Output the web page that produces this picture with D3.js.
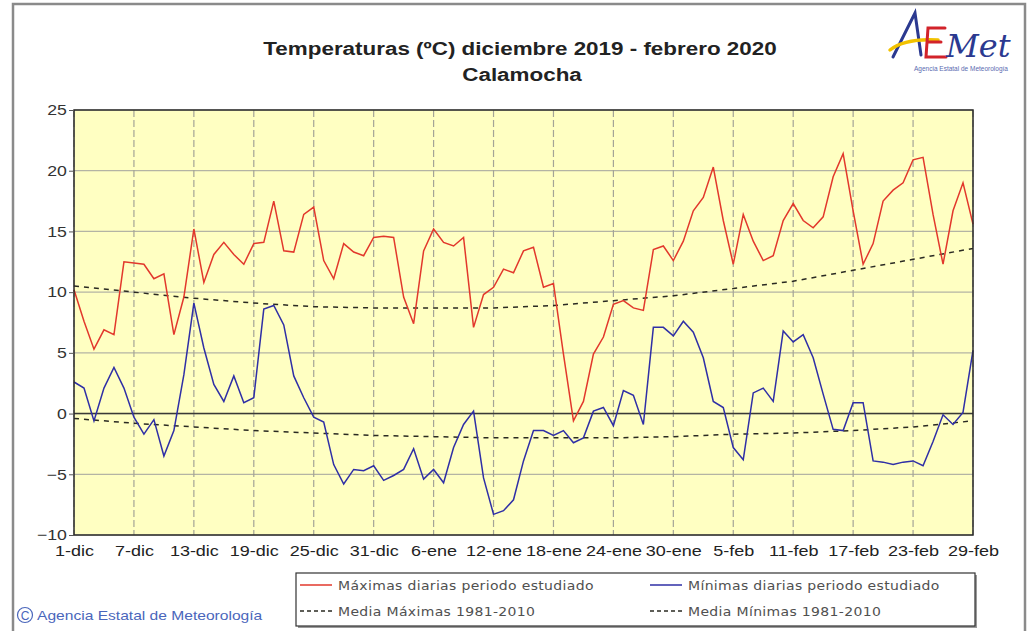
<!DOCTYPE html>
<html>
<head>
<meta charset="utf-8">
<script src="https://cdn.jsdelivr.net/npm/d3@7"></script>
<style>
  body { margin: 0; background: #fff; }
  svg { display: block; }
</style>
</head>
<body>
<svg id="chart"></svg>
<script>
// Etiquetas del eje X (cada 6 dias, 1-dic .. 29-feb)
const xLabels = ['1-dic', '7-dic', '13-dic', '19-dic', '25-dic', '31-dic', '6-ene', '12-ene',
  '18-ene', '24-ene', '30-ene', '5-feb', '11-feb', '17-feb', '23-feb', '29-feb'];
const yTicks = [-10, -5, 0, 5, 10, 15, 20, 25];

// Maximas diarias (91 dias)
const maxDiarias = [
  10.2, 7.6, 5.3, 6.9, 6.5, 12.5, 12.4, 12.3, 11.1, 11.5,
  6.5, 9.6, 15.2, 10.8, 13.1, 14.1, 13.1, 12.3, 14.0, 14.1,
  17.5, 13.4, 13.3, 16.4, 17.0, 12.6, 11.1, 14.0, 13.3, 13.0,
  14.5, 14.6, 14.5, 9.6, 7.4, 13.4, 15.2, 14.1, 13.8, 14.5,
  7.1, 9.8, 10.4, 11.9, 11.6, 13.4, 13.7, 10.4, 10.7, 4.9,
  -0.6, 1.0, 4.9, 6.3, 9.0, 9.3, 8.7, 8.5, 13.5, 13.8,
  12.6, 14.2, 16.7, 17.8, 20.3, 15.9, 12.3, 16.4, 14.2, 12.6,
  13.0, 15.9, 17.3, 15.9, 15.3, 16.2, 19.5, 21.4, 16.7, 12.3,
  14.0, 17.5, 18.4, 19.0, 20.9, 21.1, 16.4, 12.3, 16.7, 19.0,
  15.6
];

// Minimas diarias (91 dias)
const minDiarias = [
  2.6, 2.1, -0.6, 2.1, 3.8, 2.1, -0.3, -1.7, -0.5, -3.5,
  -1.4, 3.2, 9.1, 5.4, 2.4, 1.0, 3.1, 0.9, 1.3, 8.6,
  8.9, 7.3, 3.1, 1.3, -0.3, -0.7, -4.2, -5.8, -4.6, -4.7,
  -4.3, -5.5, -5.1, -4.6, -2.9, -5.4, -4.6, -5.7, -2.8, -0.9,
  0.2, -5.3, -8.3, -8.0, -7.1, -3.9, -1.4, -1.4, -1.8, -1.4,
  -2.4, -2.0, 0.2, 0.5, -1.0, 1.9, 1.5, -0.9, 7.1, 7.1,
  6.4, 7.6, 6.7, 4.6, 1.0, 0.5, -2.8, -3.8, 1.7, 2.1,
  1.0, 6.8, 5.9, 6.5, 4.6, 1.6, -1.3, -1.4, 0.9, 0.9,
  -3.9, -4.0, -4.2, -4.0, -3.9, -4.3, -2.3, -0.1, -0.9, 0.1,
  5.2
];

const mediaMax = [10.5, 10.0, 9.5, 9.1, 8.8, 8.7, 8.7, 8.7, 8.9, 9.3, 9.7, 10.3, 10.9, 11.8, 12.7, 13.6];
const mediaMin = [-0.4, -0.8, -1.1, -1.4, -1.6, -1.8, -1.9, -2.0, -2.0, -2.0, -1.9, -1.7, -1.6, -1.4, -1.1, -0.6];

class TempChart {

  constructor(_config) {
    this.config = {
      parentElement: _config.parentElement,
      containerWidth: _config.containerWidth || 1032,
      containerHeight: _config.containerHeight || 631,
      margin: { top: 110, bottom: 96, right: 59, left: 74 }
    }
    this.stretch = 1.18; // el original esta algo ensanchado
    this.initVis();
  }

  initVis() {
    let vis = this;
    vis.width = vis.config.containerWidth - vis.config.margin.left - vis.config.margin.right;
    vis.height = vis.config.containerHeight - vis.config.margin.top - vis.config.margin.bottom;

    vis.tickDays = d3.range(0, 91, 6);

    vis.xScale = d3.scaleLinear()
      .domain([0, 90])
      .range([0, vis.width]);

    vis.yScale = d3.scaleLinear()
      .domain([-10, 25])
      .range([vis.height, 0]);

    vis.svg = d3.select(vis.config.parentElement)
      .attr('width', vis.config.containerWidth)
      .attr('height', vis.config.containerHeight);

    vis.chart = vis.svg.append('g')
      .attr('transform', `translate(${vis.config.margin.left},${vis.config.margin.top})`);

    vis.line = d3.line()
      .x((d, i) => vis.xScale(i))
      .y(d => vis.yScale(d));

    vis.normLine = d3.line()
      .x((d, i) => vis.xScale(vis.tickDays[i]))
      .y(d => vis.yScale(d));

    vis.renderVis();
  }

  renderVis() {
    let vis = this;
    const s = vis.stretch;

    // marco exterior
    vis.svg.append('rect')
      .attr('x', 13).attr('y', 4)
      .attr('width', 1012).attr('height', 640)
      .attr('fill', 'none')
      .attr('stroke', '#8a8a8a')
      .attr('stroke-width', 2.5);

    // fondo del grafico
    vis.chart.append('rect')
      .attr('width', vis.width)
      .attr('height', vis.height)
      .attr('fill', '#ffffc2');

    // rejilla horizontal
    vis.chart.append('g')
      .selectAll('line')
      .data(yTicks)
      .join('line')
      .attr('x1', 0).attr('x2', vis.width)
      .attr('y1', d => vis.yScale(d)).attr('y2', d => vis.yScale(d))
      .attr('stroke', '#b4b4a4')
      .attr('stroke-width', 1.2);

    // rejilla vertical discontinua
    vis.chart.append('g')
      .selectAll('line')
      .data(vis.tickDays)
      .join('line')
      .attr('x1', d => vis.xScale(d)).attr('x2', d => vis.xScale(d))
      .attr('y1', 0).attr('y2', vis.height)
      .attr('stroke', '#a4a496')
      .attr('stroke-width', 1.2)
      .attr('stroke-dasharray', '7,3');

    // linea de cero
    vis.chart.append('line')
      .attr('x1', 0).attr('x2', vis.width)
      .attr('y1', vis.yScale(0)).attr('y2', vis.yScale(0))
      .attr('stroke', '#3a3a36')
      .attr('stroke-width', 1.5);

    // medias 1981-2010
    [mediaMax, mediaMin].forEach(serie => {
      vis.chart.append('path')
        .attr('d', vis.normLine(serie))
        .attr('fill', 'none')
        .attr('stroke', '#2a2a22')
        .attr('stroke-width', 1.5)
        .attr('stroke-dasharray', '5,5');
    });

    // maximas y minimas diarias
    vis.chart.append('path')
      .attr('d', vis.line(maxDiarias))
      .attr('fill', 'none')
      .attr('stroke', '#e2382c')
      .attr('stroke-width', 1.5);

    vis.chart.append('path')
      .attr('d', vis.line(minDiarias))
      .attr('fill', 'none')
      .attr('stroke', '#2f2fa6')
      .attr('stroke-width', 1.5);

    // borde
    vis.chart.append('rect')
      .attr('width', vis.width)
      .attr('height', vis.height)
      .attr('fill', 'none')
      .attr('stroke', '#2a2a2a')
      .attr('stroke-width', 1.5);

    // ejes
    const yAxis = vis.chart.append('g')
      .call(d3.axisLeft(vis.yScale).tickValues(yTicks).tickSize(5).tickPadding(1));
    yAxis.select('.domain').remove();
    yAxis.selectAll('line').attr('stroke', '#555');
    yAxis.selectAll('text')
      .attr('fill', '#333')
      .style('font-family', 'Liberation Sans, Arial, sans-serif')
      .style('font-size', '15px')
      .attr('transform', `scale(${s},1)`);

    const xAxis = vis.chart.append('g')
      .attr('transform', `translate(0,${vis.height})`)
      .call(d3.axisBottom(vis.xScale)
        .tickValues(vis.tickDays)
        .tickFormat((d, i) => xLabels[i])
        .tickSize(0).tickPadding(10));
    xAxis.select('.domain').remove();
    xAxis.selectAll('text')
      .attr('fill', '#222')
      .style('font-family', 'Liberation Sans, Arial, sans-serif')
      .style('font-size', '15px')
      .attr('transform', `scale(1.2,1)`);

    // titulo
    const title = vis.svg.append('g')
      .attr('font-family', 'Liberation Sans, Arial, sans-serif')
      .attr('font-weight', 'bold')
      .attr('font-size', 19)
      .attr('fill', '#222')
      .attr('text-anchor', 'middle');
    title.append('text')
      .attr('transform', `translate(520,55) scale(${s},1)`)
      .text('Temperaturas (ºC) diciembre 2019 - febrero 2020');
    title.append('text')
      .attr('transform', `translate(522,81) scale(${s},1)`)
      .text('Calamocha');

    // leyenda
    const leg = vis.svg.append('g');
    leg.append('rect')
      .attr('x', 298).attr('y', 575).attr('width', 679).attr('height', 53)
      .attr('fill', '#9a9a9a');
    leg.append('rect')
      .attr('x', 296).attr('y', 573).attr('width', 679).attr('height', 53)
      .attr('fill', '#fff')
      .attr('stroke', '#333')
      .attr('stroke-width', 1.2);

    const items = [
      { label: 'Máximas diarias periodo estudiado', color: '#e2382c', dash: null, x: 298, y: 585 },
      { label: 'Mínimas diarias periodo estudiado', color: '#2f2fa6', dash: null, x: 648, y: 585 },
      { label: 'Media Máximas 1981-2010', color: '#2a2a22', dash: '4,3', x: 298, y: 611 },
      { label: 'Media Mínimas 1981-2010', color: '#2a2a22', dash: '4,3', x: 648, y: 611 }
    ];
    items.forEach(it => {
      leg.append('line')
        .attr('x1', it.x + 2).attr('x2', it.x + 34)
        .attr('y1', it.y).attr('y2', it.y)
        .attr('stroke', it.color)
        .attr('stroke-width', 1.5)
        .attr('stroke-dasharray', it.dash);
      leg.append('text')
        .attr('transform', `translate(${it.x + 40},${it.y + 4.5}) scale(1.12,1)`)
        .attr('font-family', 'DejaVu Sans, Verdana, sans-serif')
        .attr('font-size', 12.5)
        .attr('letter-spacing', 0.3)
        .attr('fill', '#505050')
        .text(it.label);
    });

    // pie
    const foot = vis.svg.append('g').attr('fill', '#4a66bb');
    foot.append('circle')
      .attr('cx', 25).attr('cy', 615).attr('r', 7.5)
      .attr('fill', 'none').attr('stroke', '#4a66bb').attr('stroke-width', 1.2);
    foot.append('text')
      .attr('x', 25).attr('y', 619.5)
      .attr('text-anchor', 'middle')
      .attr('font-family', 'Liberation Sans, Arial, sans-serif')
      .attr('font-size', 12)
      .text('C');
    foot.append('text')
      .attr('transform', `translate(37,620) scale(1.2,1)`)
      .attr('font-family', 'Liberation Sans, Arial, sans-serif')
      .attr('font-size', 13)
      .text('Agencia Estatal de Meteorología');

    // logo AEMet
    const logo = vis.svg.append('g').attr('fill', 'none').attr('stroke-linecap', 'round');
    logo.append('path')
      .attr('d', 'M893,57 L915,13 L921,55')
      .attr('stroke', '#2b3990').attr('stroke-width', 3);
    logo.append('path')
      .attr('d', 'M890,50 Q905,38 938,40')
      .attr('stroke', '#f2c200').attr('stroke-width', 3.5);
    logo.append('path')
      .attr('d', 'M945,28 L928,28 L926,57 L946,57 M927,42 L941,42')
      .attr('stroke', '#d2232a').attr('stroke-width', 3);
    logo.append('text')
      .attr('x', 946).attr('y', 57)
      .attr('fill', '#2b3990')
      .attr('font-family', 'DejaVu Serif, serif')
      .attr('font-style', 'italic')
      .attr('font-size', 32)
      .text('Met');
    logo.append('text')
      .attr('x', 961).attr('y', 71)
      .attr('fill', '#5a6ab0')
      .attr('text-anchor', 'middle')
      .attr('font-family', 'Liberation Sans, Arial, sans-serif')
      .attr('font-size', 6.5)
      .text('Agencia Estatal de Meteorología');
  }
}

new TempChart({ parentElement: '#chart' });
</script>
</body>
</html>
